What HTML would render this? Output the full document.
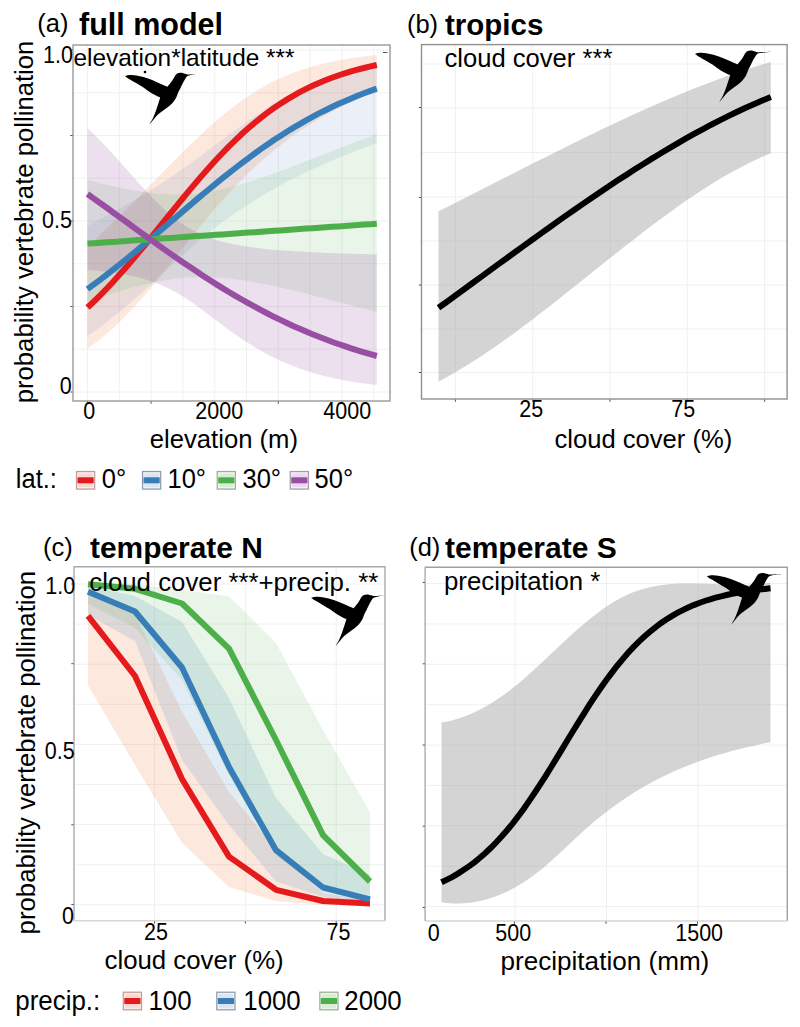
<!DOCTYPE html>
<html><head><meta charset="utf-8">
<style>
html,body{margin:0;padding:0;background:#fff;}
body{width:800px;height:1027px;overflow:hidden;position:relative;}
svg{position:absolute;left:0;top:0;}
text{font-family:"Liberation Sans",sans-serif;fill:#000;}
.b{font-weight:bold;}
</style></head><body>
<svg width="800" height="1027" viewBox="0 0 800 1027">
<rect x="0" y="0" width="800" height="1027" fill="#fff"/>
<!-- grids -->
<g stroke="#f0f0f0" stroke-width="1"><line x1="87.5" y1="45.0" x2="87.5" y2="401.0"/><line x1="119.3" y1="45.0" x2="119.3" y2="401.0"/><line x1="151.1" y1="45.0" x2="151.1" y2="401.0"/><line x1="182.9" y1="45.0" x2="182.9" y2="401.0"/><line x1="214.7" y1="45.0" x2="214.7" y2="401.0"/><line x1="246.5" y1="45.0" x2="246.5" y2="401.0"/><line x1="278.3" y1="45.0" x2="278.3" y2="401.0"/><line x1="310.1" y1="45.0" x2="310.1" y2="401.0"/><line x1="341.9" y1="45.0" x2="341.9" y2="401.0"/><line x1="373.7" y1="45.0" x2="373.7" y2="401.0"/><line x1="73.0" y1="392.0" x2="390.0" y2="392.0"/><line x1="73.0" y1="349.2" x2="390.0" y2="349.2"/><line x1="73.0" y1="306.5" x2="390.0" y2="306.5"/><line x1="73.0" y1="263.8" x2="390.0" y2="263.8"/><line x1="73.0" y1="221.0" x2="390.0" y2="221.0"/><line x1="73.0" y1="178.2" x2="390.0" y2="178.2"/><line x1="73.0" y1="135.5" x2="390.0" y2="135.5"/><line x1="73.0" y1="92.8" x2="390.0" y2="92.8"/><line x1="73.0" y1="50.0" x2="390.0" y2="50.0"/><line x1="455.4" y1="45.0" x2="455.4" y2="399.0"/><line x1="532.7" y1="45.0" x2="532.7" y2="399.0"/><line x1="610.0" y1="45.0" x2="610.0" y2="399.0"/><line x1="687.3" y1="45.0" x2="687.3" y2="399.0"/><line x1="764.6" y1="45.0" x2="764.6" y2="399.0"/><line x1="421.5" y1="64.0" x2="787.3" y2="64.0"/><line x1="421.5" y1="108.0" x2="787.3" y2="108.0"/><line x1="421.5" y1="152.5" x2="787.3" y2="152.5"/><line x1="421.5" y1="197.0" x2="787.3" y2="197.0"/><line x1="421.5" y1="241.0" x2="787.3" y2="241.0"/><line x1="421.5" y1="285.0" x2="787.3" y2="285.0"/><line x1="421.5" y1="329.0" x2="787.3" y2="329.0"/><line x1="421.5" y1="372.6" x2="787.3" y2="372.6"/><line x1="154.5" y1="566.7" x2="154.5" y2="920.8"/><line x1="245.4" y1="566.7" x2="245.4" y2="920.8"/><line x1="336.2" y1="566.7" x2="336.2" y2="920.8"/><line x1="74.0" y1="584.0" x2="385.0" y2="584.0"/><line x1="74.0" y1="624.1" x2="385.0" y2="624.1"/><line x1="74.0" y1="664.2" x2="385.0" y2="664.2"/><line x1="74.0" y1="704.3" x2="385.0" y2="704.3"/><line x1="74.0" y1="744.4" x2="385.0" y2="744.4"/><line x1="74.0" y1="784.5" x2="385.0" y2="784.5"/><line x1="74.0" y1="824.6" x2="385.0" y2="824.6"/><line x1="74.0" y1="864.7" x2="385.0" y2="864.7"/><line x1="74.0" y1="904.8" x2="385.0" y2="904.8"/><line x1="514.9" y1="567.2" x2="514.9" y2="921.0"/><line x1="606.5" y1="567.2" x2="606.5" y2="921.0"/><line x1="698.0" y1="567.2" x2="698.0" y2="921.0"/><line x1="425.5" y1="583.5" x2="787.5" y2="583.5"/><line x1="425.5" y1="623.9" x2="787.5" y2="623.9"/><line x1="425.5" y1="664.3" x2="787.5" y2="664.3"/><line x1="425.5" y1="704.7" x2="787.5" y2="704.7"/><line x1="425.5" y1="745.1" x2="787.5" y2="745.1"/><line x1="425.5" y1="785.5" x2="787.5" y2="785.5"/><line x1="425.5" y1="825.8" x2="787.5" y2="825.8"/><line x1="425.5" y1="866.2" x2="787.5" y2="866.2"/><line x1="425.5" y1="906.6" x2="787.5" y2="906.6"/></g>
<!-- Panel A -->
<path d="M87.5,246.6 L93.9,240.7 L100.4,234.6 L106.8,228.5 L113.2,222.3 L119.6,216.0 L126.1,209.6 L132.5,203.2 L138.9,196.7 L145.4,190.1 L151.8,183.6 L158.2,177.0 L164.6,170.4 L171.1,163.9 L177.5,157.4 L183.9,151.0 L190.4,144.7 L196.8,138.5 L203.2,132.5 L209.6,126.6 L216.1,120.9 L222.5,115.5 L228.9,110.3 L235.4,105.3 L241.8,100.6 L248.2,96.2 L254.7,92.0 L261.1,88.2 L267.5,84.6 L273.9,81.3 L280.4,78.2 L286.8,75.4 L293.2,72.8 L299.7,70.5 L306.1,68.4 L312.5,66.4 L318.9,64.7 L325.4,63.1 L331.8,61.7 L338.2,60.4 L344.7,59.3 L351.1,58.3 L357.5,57.3 L363.9,56.5 L370.4,55.8 L376.8,55.1 L376.8,91.7 L370.4,94.1 L363.9,96.7 L357.5,99.4 L351.1,102.3 L344.7,105.3 L338.2,108.4 L331.8,111.8 L325.4,115.3 L318.9,118.9 L312.5,122.8 L306.1,126.9 L299.7,131.1 L293.2,135.6 L286.8,140.3 L280.4,145.2 L273.9,150.3 L267.5,155.7 L261.1,161.3 L254.7,167.2 L248.2,173.3 L241.8,179.7 L235.4,186.3 L228.9,193.2 L222.5,200.3 L216.1,207.6 L209.6,215.1 L203.2,222.8 L196.8,230.7 L190.4,238.7 L183.9,246.8 L177.5,254.9 L171.1,263.0 L164.6,271.0 L158.2,279.0 L151.8,286.8 L145.4,294.4 L138.9,301.7 L132.5,308.8 L126.1,315.5 L119.6,321.9 L113.2,328.0 L106.8,333.7 L100.4,339.0 L93.9,344.0 L87.5,348.6 Z" fill="rgba(240,90,20,0.14)"/>
<path d="M87.5,225.9 L93.9,222.6 L100.4,219.2 L106.8,215.8 L113.2,212.3 L119.6,208.7 L126.1,205.1 L132.5,201.3 L138.9,197.5 L145.4,193.6 L151.8,189.6 L158.2,185.4 L164.6,181.2 L171.1,176.9 L177.5,172.5 L183.9,168.0 L190.4,163.4 L196.8,158.7 L203.2,153.9 L209.6,149.1 L216.1,144.3 L222.5,139.5 L228.9,134.8 L235.4,130.0 L241.8,125.4 L248.2,120.8 L254.7,116.4 L261.1,112.1 L267.5,107.9 L273.9,104.0 L280.4,100.2 L286.8,96.5 L293.2,93.1 L299.7,89.9 L306.1,86.8 L312.5,83.9 L318.9,81.3 L325.4,78.8 L331.8,76.4 L338.2,74.3 L344.7,72.2 L351.1,70.4 L357.5,68.7 L363.9,67.1 L370.4,65.6 L376.8,64.2 L376.8,143.0 L370.4,145.4 L363.9,147.8 L357.5,150.3 L351.1,152.8 L344.7,155.4 L338.2,158.0 L331.8,160.7 L325.4,163.5 L318.9,166.4 L312.5,169.3 L306.1,172.3 L299.7,175.4 L293.2,178.6 L286.8,181.9 L280.4,185.3 L273.9,188.8 L267.5,192.5 L261.1,196.3 L254.7,200.2 L248.2,204.2 L241.8,208.5 L235.4,212.8 L228.9,217.4 L222.5,222.1 L216.1,227.0 L209.6,232.1 L203.2,237.4 L196.8,242.8 L190.4,248.4 L183.9,254.1 L177.5,259.9 L171.1,265.8 L164.6,271.7 L158.2,277.7 L151.8,283.6 L145.4,289.5 L138.9,295.3 L132.5,301.0 L126.1,306.5 L119.6,311.9 L113.2,317.1 L106.8,322.1 L100.4,326.9 L93.9,331.5 L87.5,335.9 Z" fill="rgba(70,110,190,0.11)"/>
<path d="M87.5,179.9 L93.9,181.6 L100.4,183.3 L106.8,184.9 L113.2,186.3 L119.6,187.8 L126.1,189.1 L132.5,190.3 L138.9,191.3 L145.4,192.3 L151.8,193.1 L158.2,193.7 L164.6,194.1 L171.1,194.4 L177.5,194.4 L183.9,194.3 L190.4,193.9 L196.8,193.4 L203.2,192.6 L209.6,191.6 L216.1,190.5 L222.5,189.1 L228.9,187.6 L235.4,185.9 L241.8,184.1 L248.2,182.2 L254.7,180.1 L261.1,178.0 L267.5,175.8 L273.9,173.5 L280.4,171.1 L286.8,168.7 L293.2,166.3 L299.7,163.8 L306.1,161.3 L312.5,158.8 L318.9,156.3 L325.4,153.8 L331.8,151.3 L338.2,148.8 L344.7,146.3 L351.1,143.8 L357.5,141.3 L363.9,138.9 L370.4,136.5 L376.8,134.1 L376.8,311.9 L370.4,310.2 L363.9,308.6 L357.5,306.9 L351.1,305.2 L344.7,303.6 L338.2,301.9 L331.8,300.2 L325.4,298.5 L318.9,296.9 L312.5,295.3 L306.1,293.6 L299.7,292.1 L293.2,290.5 L286.8,289.0 L280.4,287.5 L273.9,286.1 L267.5,284.7 L261.1,283.4 L254.7,282.2 L248.2,281.1 L241.8,280.1 L235.4,279.2 L228.9,278.4 L222.5,277.8 L216.1,277.4 L209.6,277.1 L203.2,277.0 L196.8,277.1 L190.4,277.4 L183.9,277.8 L177.5,278.5 L171.1,279.3 L164.6,280.3 L158.2,281.5 L151.8,282.9 L145.4,284.3 L138.9,285.9 L132.5,287.6 L126.1,289.4 L119.6,291.3 L113.2,293.2 L106.8,295.2 L100.4,297.3 L93.9,299.4 L87.5,301.5 Z" fill="rgba(77,175,74,0.13)"/>
<path d="M87.5,127.9 L93.9,134.2 L100.4,140.7 L106.8,147.5 L113.2,154.4 L119.6,161.6 L126.1,168.8 L132.5,176.0 L138.9,183.2 L145.4,190.2 L151.8,197.0 L158.2,203.5 L164.6,209.7 L171.1,215.3 L177.5,220.4 L183.9,224.9 L190.4,228.9 L196.8,232.3 L203.2,235.3 L209.6,237.8 L216.1,239.9 L222.5,241.8 L228.9,243.3 L235.4,244.7 L241.8,245.8 L248.2,246.8 L254.7,247.7 L261.1,248.5 L267.5,249.2 L273.9,249.8 L280.4,250.3 L286.8,250.8 L293.2,251.2 L299.7,251.6 L306.1,252.0 L312.5,252.3 L318.9,252.6 L325.4,252.9 L331.8,253.1 L338.2,253.4 L344.7,253.6 L351.1,253.8 L357.5,254.0 L363.9,254.1 L370.4,254.3 L376.8,254.4 L376.8,385.1 L370.4,384.3 L363.9,383.5 L357.5,382.6 L351.1,381.5 L344.7,380.4 L338.2,379.1 L331.8,377.7 L325.4,376.2 L318.9,374.5 L312.5,372.7 L306.1,370.7 L299.7,368.5 L293.2,366.1 L286.8,363.5 L280.4,360.7 L273.9,357.6 L267.5,354.4 L261.1,350.8 L254.7,347.1 L248.2,343.1 L241.8,338.9 L235.4,334.5 L228.9,329.9 L222.5,325.1 L216.1,320.3 L209.6,315.4 L203.2,310.6 L196.8,305.9 L190.4,301.3 L183.9,297.1 L177.5,293.2 L171.1,289.7 L164.6,286.5 L158.2,283.8 L151.8,281.4 L145.4,279.4 L138.9,277.6 L132.5,276.1 L126.1,274.7 L119.6,273.6 L113.2,272.6 L106.8,271.7 L100.4,270.9 L93.9,270.3 L87.5,269.7 Z" fill="rgba(152,78,163,0.18)"/>

<path d="M87.5,307.5 L93.9,301.5 L100.4,295.1 L106.8,288.5 L113.2,281.7 L119.6,274.6 L126.1,267.3 L132.5,259.9 L138.9,252.2 L145.4,244.5 L151.8,236.6 L158.2,228.7 L164.6,220.7 L171.1,212.7 L177.5,204.8 L183.9,197.0 L190.4,189.2 L196.8,181.6 L203.2,174.1 L209.6,166.9 L216.1,159.8 L222.5,153.0 L228.9,146.4 L235.4,140.1 L241.8,134.0 L248.2,128.3 L254.7,122.8 L261.1,117.6 L267.5,112.7 L273.9,108.0 L280.4,103.7 L286.8,99.6 L293.2,95.8 L299.7,92.2 L306.1,88.9 L312.5,85.8 L318.9,82.9 L325.4,80.2 L331.8,77.8 L338.2,75.5 L344.7,73.4 L351.1,71.4 L357.5,69.6 L363.9,68.0 L370.4,66.4 L376.8,65.0" fill="none" stroke="#e41a1c" stroke-width="6"/>
<path d="M87.5,289.1 L93.9,284.4 L100.4,279.6 L106.8,274.7 L113.2,269.6 L119.6,264.5 L126.1,259.3 L132.5,254.0 L138.9,248.7 L145.4,243.3 L151.8,237.9 L158.2,232.4 L164.6,226.9 L171.1,221.4 L177.5,215.9 L183.9,210.4 L190.4,204.9 L196.8,199.4 L203.2,194.0 L209.6,188.7 L216.1,183.4 L222.5,178.2 L228.9,173.1 L235.4,168.0 L241.8,163.1 L248.2,158.3 L254.7,153.5 L261.1,148.9 L267.5,144.5 L273.9,140.1 L280.4,135.9 L286.8,131.8 L293.2,127.9 L299.7,124.1 L306.1,120.4 L312.5,116.8 L318.9,113.4 L325.4,110.2 L331.8,107.0 L338.2,104.0 L344.7,101.2 L351.1,98.4 L357.5,95.8 L363.9,93.3 L370.4,90.9 L376.8,88.7" fill="none" stroke="#377eb8" stroke-width="6"/>
<path d="M87.5,243.6 L93.9,243.2 L100.4,242.7 L106.8,242.3 L113.2,241.9 L119.6,241.4 L126.1,241.0 L132.5,240.5 L138.9,240.1 L145.4,239.7 L151.8,239.2 L158.2,238.8 L164.6,238.3 L171.1,237.9 L177.5,237.5 L183.9,237.0 L190.4,236.6 L196.8,236.1 L203.2,235.7 L209.6,235.3 L216.1,234.8 L222.5,234.4 L228.9,233.9 L235.4,233.5 L241.8,233.1 L248.2,232.6 L254.7,232.2 L261.1,231.7 L267.5,231.3 L273.9,230.8 L280.4,230.4 L286.8,230.0 L293.2,229.5 L299.7,229.1 L306.1,228.6 L312.5,228.2 L318.9,227.7 L325.4,227.3 L331.8,226.8 L338.2,226.4 L344.7,226.0 L351.1,225.5 L357.5,225.1 L363.9,224.6 L370.4,224.2 L376.8,223.7" fill="none" stroke="#4daf4a" stroke-width="6"/>
<path d="M87.5,194.0 L93.9,198.6 L100.4,203.2 L106.8,207.8 L113.2,212.5 L119.6,217.2 L126.1,221.8 L132.5,226.5 L138.9,231.2 L145.4,235.8 L151.8,240.4 L158.2,245.0 L164.6,249.6 L171.1,254.1 L177.5,258.6 L183.9,263.0 L190.4,267.3 L196.8,271.6 L203.2,275.9 L209.6,280.0 L216.1,284.1 L222.5,288.1 L228.9,292.0 L235.4,295.8 L241.8,299.5 L248.2,303.2 L254.7,306.7 L261.1,310.2 L267.5,313.5 L273.9,316.8 L280.4,319.9 L286.8,323.0 L293.2,326.0 L299.7,328.8 L306.1,331.6 L312.5,334.3 L318.9,336.8 L325.4,339.3 L331.8,341.7 L338.2,344.0 L344.7,346.2 L351.1,348.3 L357.5,350.4 L363.9,352.3 L370.4,354.2 L376.8,356.0" fill="none" stroke="#984ea3" stroke-width="6"/>

<!-- Panel B -->
<path d="M438.5,211.2 L447.0,206.9 L455.5,202.7 L464.1,198.4 L472.6,194.1 L481.1,189.8 L489.6,185.5 L498.1,181.1 L506.7,176.8 L515.2,172.5 L523.7,168.1 L532.2,163.8 L540.7,159.5 L549.3,155.2 L557.8,151.0 L566.3,146.7 L574.8,142.5 L583.3,138.3 L591.9,134.2 L600.4,130.0 L608.9,126.0 L617.4,122.0 L626.0,118.0 L634.5,114.1 L643.0,110.2 L651.5,106.4 L660.0,102.7 L668.6,99.0 L677.1,95.4 L685.6,91.9 L694.1,88.5 L702.6,85.2 L711.2,81.9 L719.7,78.7 L728.2,75.7 L736.7,72.7 L745.2,69.9 L753.8,67.1 L762.3,64.5 L770.8,61.9 L770.8,153.2 L762.3,156.8 L753.8,160.7 L745.2,164.9 L736.7,169.4 L728.2,174.1 L719.7,179.1 L711.2,184.3 L702.6,189.7 L694.1,195.3 L685.6,201.1 L677.1,207.1 L668.6,213.2 L660.0,219.4 L651.5,225.8 L643.0,232.3 L634.5,238.9 L626.0,245.5 L617.4,252.2 L608.9,259.0 L600.4,265.8 L591.9,272.6 L583.3,279.5 L574.8,286.3 L566.3,293.1 L557.8,299.8 L549.3,306.5 L540.7,313.1 L532.2,319.7 L523.7,326.1 L515.2,332.4 L506.7,338.6 L498.1,344.7 L489.6,350.6 L481.1,356.3 L472.6,361.8 L464.1,367.1 L455.5,372.2 L447.0,377.1 L438.5,381.7 Z" fill="rgba(150,150,150,0.41)"/>
<path d="M438.5,307.8 L447.0,301.7 L455.5,295.5 L464.1,289.3 L472.6,283.0 L481.1,276.8 L489.6,270.6 L498.1,264.4 L506.7,258.2 L515.2,252.0 L523.7,245.8 L532.2,239.7 L540.7,233.6 L549.3,227.5 L557.8,221.4 L566.3,215.4 L574.8,209.5 L583.3,203.6 L591.9,197.7 L600.4,192.0 L608.9,186.3 L617.4,180.6 L626.0,175.1 L634.5,169.6 L643.0,164.2 L651.5,158.9 L660.0,153.7 L668.6,148.6 L677.1,143.6 L685.6,138.7 L694.1,133.9 L702.6,129.3 L711.2,124.7 L719.7,120.4 L728.2,116.1 L736.7,112.0 L745.2,108.0 L753.8,104.2 L762.3,100.5 L770.8,97.0" fill="none" stroke="#000" stroke-width="6"/>

<!-- Panel C -->
<path d="M88.0,595.0 L135.0,614.0 L182.0,712.0 L229.0,792.0 L276.0,849.5 L323.0,893.0 L370.0,901.0 L370.0,905.5 L323.0,905.0 L276.0,901.0 L229.0,887.0 L182.0,843.0 L135.0,765.0 L88.0,685.5 Z" fill="rgba(240,90,20,0.14)"/>
<path d="M88.0,586.0 L135.0,596.0 L182.0,622.0 L229.0,698.0 L276.0,798.0 L323.0,854.0 L370.0,875.0 L370.0,903.0 L323.0,897.0 L276.0,881.5 L229.0,825.0 L182.0,760.0 L135.0,641.0 L88.0,615.0 Z" fill="rgba(55,126,184,0.15)"/>
<path d="M88.0,583.0 L135.0,584.0 L182.0,590.0 L229.0,596.2 L276.0,643.0 L323.0,730.0 L370.0,812.6 L370.0,900.0 L323.0,890.0 L276.0,856.0 L229.0,775.0 L182.0,680.0 L135.0,628.0 L88.0,604.0 Z" fill="rgba(77,175,74,0.13)"/>

<path d="M88.0,615.8 L135.0,676.0 L182.0,779.0 L229.0,856.6 L276.0,889.8 L323.0,901.0 L370.0,903.4" fill="none" stroke="#e41a1c" stroke-width="6" stroke-linejoin="round"/>
<path d="M88.0,591.8 L135.0,611.5 L182.0,667.5 L229.0,767.0 L276.0,850.2 L323.0,887.5 L370.0,899.3" fill="none" stroke="#377eb8" stroke-width="6" stroke-linejoin="round"/>
<path d="M88.0,584.2 L135.0,588.8 L182.0,603.5 L229.0,648.7 L276.0,740.0 L323.0,835.2 L370.0,881.5" fill="none" stroke="#4daf4a" stroke-width="6" stroke-linejoin="round"/>

<!-- Panel D -->
<path d="M441.5,722.5 L447.1,721.5 L452.7,720.2 L458.2,718.6 L463.8,716.7 L469.4,714.5 L475.0,712.1 L480.5,709.3 L486.1,706.2 L491.7,702.9 L497.3,699.3 L502.8,695.5 L508.4,691.4 L514.0,687.0 L519.6,682.4 L525.1,677.7 L530.7,672.7 L536.3,667.6 L541.9,662.4 L547.4,657.2 L553.0,651.9 L558.6,646.7 L564.2,641.5 L569.8,636.3 L575.3,631.3 L580.9,626.4 L586.5,621.7 L592.1,617.2 L597.6,612.9 L603.2,608.8 L608.8,605.0 L614.4,601.5 L619.9,598.4 L625.5,595.6 L631.1,593.1 L636.7,591.0 L642.2,589.2 L647.8,587.7 L653.4,586.4 L659.0,585.5 L664.6,584.7 L670.1,584.1 L675.7,583.7 L681.3,583.5 L686.9,583.4 L692.4,583.4 L698.0,583.5 L703.6,583.7 L709.2,583.9 L714.7,584.1 L720.3,584.4 L725.9,584.6 L731.5,584.7 L737.0,584.8 L742.6,584.9 L748.2,584.7 L753.8,584.5 L759.3,584.1 L764.9,583.5 L770.5,582.8 L770.5,742.2 L764.9,743.3 L759.3,744.5 L753.8,745.7 L748.2,746.9 L742.6,748.3 L737.0,749.7 L731.5,751.1 L725.9,752.7 L720.3,754.3 L714.7,756.0 L709.2,757.8 L703.6,759.7 L698.0,761.7 L692.4,763.7 L686.9,765.9 L681.3,768.2 L675.7,770.6 L670.1,773.2 L664.6,775.8 L659.0,778.6 L653.4,781.5 L647.8,784.6 L642.2,787.8 L636.7,791.1 L631.1,794.6 L625.5,798.2 L619.9,802.0 L614.4,806.0 L608.8,810.1 L603.2,814.4 L597.6,818.8 L592.1,823.5 L586.5,828.3 L580.9,833.3 L575.3,838.5 L569.8,843.7 L564.2,849.0 L558.6,854.2 L553.0,859.3 L547.4,864.2 L541.9,868.9 L536.3,873.3 L530.7,877.5 L525.1,881.3 L519.6,884.8 L514.0,888.0 L508.4,890.9 L502.8,893.5 L497.3,895.8 L491.7,897.8 L486.1,899.5 L480.5,900.9 L475.0,902.0 L469.4,902.8 L463.8,903.3 L458.2,903.5 L452.7,903.4 L447.1,903.0 L441.5,902.3 Z" fill="rgba(150,150,150,0.41)"/>
<path d="M441.5,882.3 L447.0,879.6 L452.5,876.8 L457.9,873.6 L463.4,870.1 L468.9,866.4 L474.4,862.3 L479.9,857.8 L485.4,853.0 L490.9,847.8 L496.3,842.3 L501.8,836.3 L507.3,830.0 L512.8,823.3 L518.3,816.2 L523.8,808.7 L529.2,800.9 L534.7,792.8 L540.2,784.4 L545.7,775.8 L551.2,767.0 L556.6,758.1 L562.1,749.1 L567.6,740.0 L573.1,731.0 L578.6,722.1 L584.1,713.3 L589.5,704.7 L595.0,696.4 L600.5,688.3 L606.0,680.5 L611.5,673.1 L617.0,666.0 L622.5,659.4 L627.9,653.0 L633.4,647.1 L638.9,641.6 L644.4,636.5 L649.9,631.7 L655.4,627.3 L660.8,623.2 L666.3,619.5 L671.8,616.1 L677.3,612.9 L682.8,610.1 L688.2,607.5 L693.7,605.1 L699.2,603.0 L704.7,601.0 L710.2,599.3 L715.7,597.7 L721.1,596.3 L726.6,595.0 L732.1,593.8 L737.6,592.7 L743.1,591.8 L748.6,591.0 L754.0,590.2 L759.5,589.5 L765.0,588.9 L770.5,588.3" fill="none" stroke="#000" stroke-width="6"/>

<!-- borders -->
<g fill="none" stroke-width="1.4">
<rect x="73" y="45" width="317" height="356" stroke="#999"/>
<rect x="421.5" y="44.6" width="365.6" height="354.4" stroke="#909090"/>
<path d="M74,920.8 V566.7 H385 V920.8" stroke="#aaa"/>
<path d="M74,920.8 H385" stroke="#d6d6d6"/>
<path d="M425.3,921 V567.2 H787.3 V921" stroke="#a0a0a0"/>
<path d="M425.3,567.2 V921" stroke="#bcbcbc"/>
<path d="M425.3,921 H787.3" stroke="#d6d6d6"/>
</g>
<!-- ticks -->
<g stroke="#555" stroke-width="1"><line x1="70.3" y1="392.0" x2="72.6" y2="392.0"/><line x1="70.3" y1="306.5" x2="72.6" y2="306.5"/><line x1="70.3" y1="221.0" x2="72.6" y2="221.0"/><line x1="70.3" y1="135.5" x2="72.6" y2="135.5"/><line x1="70.3" y1="50.0" x2="72.6" y2="50.0"/><line x1="87.5" y1="401.5" x2="87.5" y2="403.8"/><line x1="151.1" y1="401.5" x2="151.1" y2="403.8"/><line x1="214.7" y1="401.5" x2="214.7" y2="403.8"/><line x1="278.3" y1="401.5" x2="278.3" y2="403.8"/><line x1="341.9" y1="401.5" x2="341.9" y2="403.8"/><line x1="418.8" y1="107.5" x2="421.1" y2="107.5"/><line x1="418.8" y1="197.5" x2="421.1" y2="197.5"/><line x1="418.8" y1="285.0" x2="421.1" y2="285.0"/><line x1="418.8" y1="372.5" x2="421.1" y2="372.5"/><line x1="455.4" y1="399.5" x2="455.4" y2="401.8"/><line x1="532.7" y1="399.5" x2="532.7" y2="401.8"/><line x1="610.0" y1="399.5" x2="610.0" y2="401.8"/><line x1="687.3" y1="399.5" x2="687.3" y2="401.8"/><line x1="764.6" y1="399.5" x2="764.6" y2="401.8"/><line x1="71.3" y1="584.0" x2="73.6" y2="584.0"/><line x1="71.3" y1="663.7" x2="73.6" y2="663.7"/><line x1="71.3" y1="743.5" x2="73.6" y2="743.5"/><line x1="71.3" y1="824.8" x2="73.6" y2="824.8"/><line x1="71.3" y1="904.5" x2="73.6" y2="904.5"/><line x1="154.5" y1="921.3" x2="154.5" y2="923.6"/><line x1="245.4" y1="921.3" x2="245.4" y2="923.6"/><line x1="336.2" y1="921.3" x2="336.2" y2="923.6"/><line x1="422.6" y1="582.5" x2="424.9" y2="582.5"/><line x1="422.6" y1="663.8" x2="424.9" y2="663.8"/><line x1="422.6" y1="745.0" x2="424.9" y2="745.0"/><line x1="422.6" y1="826.2" x2="424.9" y2="826.2"/><line x1="422.6" y1="907.5" x2="424.9" y2="907.5"/><line x1="514.5" y1="921.5" x2="514.5" y2="923.8"/><line x1="606.0" y1="921.5" x2="606.0" y2="923.8"/><line x1="697.5" y1="921.5" x2="697.5" y2="923.8"/></g><line x1="383" y1="52.5" x2="387.5" y2="52.5" stroke="#555" stroke-width="1"/>
<!-- birds -->
<path transform="translate(125.00,73.90)" d="M0,2.4C0.73,2.20 2.11,1.23 4.40,1.20C6.69,1.17 10.63,1.62 13.75,2.20C16.87,2.78 19.98,3.65 23.10,4.70C26.23,5.75 29.27,7.15 32.50,8.50C35.73,9.85 40.83,12.08 42.50,12.80C43.30,11.77 45.92,8.60 47.30,6.60C48.68,4.60 49.52,2.08 50.80,0.80C52.08,-0.48 53.47,-0.93 55.00,-1.10C56.53,-1.27 58.58,-0.48 60.00,-0.20C61.42,0.08 61.78,0.55 63.50,0.60C65.22,0.65 69.17,0.18 70.30,0.10C69.42,0.32 66.42,0.95 65.00,1.40C63.58,1.85 62.80,1.87 61.80,2.80C60.80,3.73 60.05,5.13 59.00,7.00C57.95,8.87 56.50,12.00 55.50,14.00C54.50,16.00 53.75,17.33 53.00,19.00C52.25,20.67 51.92,22.33 51.00,24.00C50.08,25.67 48.83,27.50 47.50,29.00C46.17,30.50 44.67,31.67 43.00,33.00C41.33,34.33 39.17,35.75 37.50,37.00C35.83,38.25 34.42,39.17 33.00,40.50C31.58,41.83 30.47,43.28 29.00,45.00C27.53,46.72 25.00,49.83 24.20,50.80C24.83,49.67 26.87,46.38 28.00,44.00C29.13,41.62 30.08,39.00 31.00,36.50C31.92,34.00 32.80,31.15 33.50,29.00C34.20,26.85 34.92,24.50 35.20,23.60C34.33,23.20 31.70,22.08 30.00,21.20C28.30,20.32 26.75,19.45 25.00,18.30C23.25,17.15 21.90,15.87 19.50,14.30C17.10,12.73 13.18,10.43 10.60,8.90C8.02,7.37 5.77,6.18 4.00,5.10C2.23,4.02 0.67,2.85 0.00,2.40Z" fill="#000"/><path transform="translate(695.00,51.60)" d="M0,2.4C0.73,2.20 2.11,1.23 4.40,1.20C6.69,1.17 10.63,1.62 13.75,2.20C16.87,2.78 19.98,3.65 23.10,4.70C26.23,5.75 29.27,7.15 32.50,8.50C35.73,9.85 40.83,12.08 42.50,12.80C43.30,11.77 45.92,8.60 47.30,6.60C48.68,4.60 49.52,2.08 50.80,0.80C52.08,-0.48 53.47,-0.93 55.00,-1.10C56.53,-1.27 58.58,-0.48 60.00,-0.20C61.42,0.08 60.80,0.55 63.50,0.60C66.20,0.65 74.08,0.18 76.20,0.10C74.33,0.32 67.40,0.95 65.00,1.40C62.60,1.85 62.80,1.87 61.80,2.80C60.80,3.73 60.05,5.13 59.00,7.00C57.95,8.87 56.50,12.00 55.50,14.00C54.50,16.00 53.75,17.33 53.00,19.00C52.25,20.67 51.92,22.33 51.00,24.00C50.08,25.67 48.83,27.50 47.50,29.00C46.17,30.50 44.67,31.67 43.00,33.00C41.33,34.33 39.17,35.75 37.50,37.00C35.83,38.25 34.42,39.17 33.00,40.50C31.58,41.83 30.47,43.28 29.00,45.00C27.53,46.72 25.00,49.83 24.20,50.80C24.83,49.67 26.87,46.38 28.00,44.00C29.13,41.62 30.08,39.00 31.00,36.50C31.92,34.00 32.80,31.15 33.50,29.00C34.20,26.85 34.92,24.50 35.20,23.60C34.33,23.20 31.70,22.08 30.00,21.20C28.30,20.32 26.75,19.45 25.00,18.30C23.25,17.15 21.90,15.87 19.50,14.30C17.10,12.73 13.18,10.43 10.60,8.90C8.02,7.37 5.77,6.18 4.00,5.10C2.23,4.02 0.67,2.85 0.00,2.40Z" fill="#000"/><path transform="translate(311.25,595.50)" d="M0,2.4C0.73,2.20 2.11,1.23 4.40,1.20C6.69,1.17 10.63,1.62 13.75,2.20C16.87,2.78 19.98,3.65 23.10,4.70C26.23,5.75 29.27,7.15 32.50,8.50C35.73,9.85 40.83,12.08 42.50,12.80C43.30,11.77 45.92,8.60 47.30,6.60C48.68,4.60 49.52,2.08 50.80,0.80C52.08,-0.48 53.47,-0.93 55.00,-1.10C56.53,-1.27 58.58,-0.48 60.00,-0.20C61.42,0.08 61.42,0.55 63.50,0.60C65.58,0.65 71.00,0.18 72.50,0.10C71.25,0.32 66.78,0.95 65.00,1.40C63.22,1.85 62.80,1.87 61.80,2.80C60.80,3.73 60.05,5.13 59.00,7.00C57.95,8.87 56.50,12.00 55.50,14.00C54.50,16.00 53.75,17.33 53.00,19.00C52.25,20.67 51.92,22.33 51.00,24.00C50.08,25.67 48.83,27.50 47.50,29.00C46.17,30.50 44.67,31.67 43.00,33.00C41.33,34.33 39.17,35.75 37.50,37.00C35.83,38.25 34.42,39.17 33.00,40.50C31.58,41.83 30.47,43.28 29.00,45.00C27.53,46.72 25.00,49.83 24.20,50.80C24.83,49.67 26.87,46.38 28.00,44.00C29.13,41.62 30.08,39.00 31.00,36.50C31.92,34.00 32.80,31.15 33.50,29.00C34.20,26.85 34.92,24.50 35.20,23.60C34.33,23.20 31.70,22.08 30.00,21.20C28.30,20.32 26.75,19.45 25.00,18.30C23.25,17.15 21.90,15.87 19.50,14.30C17.10,12.73 13.18,10.43 10.60,8.90C8.02,7.37 5.77,6.18 4.00,5.10C2.23,4.02 0.67,2.85 0.00,2.40Z" fill="#000"/><path transform="translate(706.90,574.00)" d="M0,2.4C0.73,2.20 2.11,1.23 4.40,1.20C6.69,1.17 10.63,1.62 13.75,2.20C16.87,2.78 19.98,3.65 23.10,4.70C26.23,5.75 29.27,7.15 32.50,8.50C35.73,9.85 40.83,12.08 42.50,12.80C43.30,11.77 45.92,8.60 47.30,6.60C48.68,4.60 49.52,2.08 50.80,0.80C52.08,-0.48 53.47,-0.93 55.00,-1.10C56.53,-1.27 58.58,-0.48 60.00,-0.20C61.42,0.08 60.90,0.55 63.50,0.60C66.10,0.65 73.58,0.18 75.60,0.10C73.83,0.32 67.30,0.95 65.00,1.40C62.70,1.85 62.80,1.87 61.80,2.80C60.80,3.73 60.05,5.13 59.00,7.00C57.95,8.87 56.50,12.00 55.50,14.00C54.50,16.00 53.75,17.33 53.00,19.00C52.25,20.67 51.92,22.33 51.00,24.00C50.08,25.67 48.83,27.50 47.50,29.00C46.17,30.50 44.67,31.67 43.00,33.00C41.33,34.33 39.17,35.75 37.50,37.00C35.83,38.25 34.42,39.17 33.00,40.50C31.58,41.83 30.47,43.28 29.00,45.00C27.53,46.72 25.00,49.83 24.20,50.80C24.83,49.67 26.87,46.38 28.00,44.00C29.13,41.62 30.08,39.00 31.00,36.50C31.92,34.00 32.80,31.15 33.50,29.00C34.20,26.85 34.92,24.50 35.20,23.60C34.33,23.20 31.70,22.08 30.00,21.20C28.30,20.32 26.75,19.45 25.00,18.30C23.25,17.15 21.90,15.87 19.50,14.30C17.10,12.73 13.18,10.43 10.60,8.90C8.02,7.37 5.77,6.18 4.00,5.10C2.23,4.02 0.67,2.85 0.00,2.40Z" fill="#000"/><circle cx="145" cy="72" r="1.3" fill="#000"/>
<!-- texts -->
<text transform="translate(37.30,32.40) scale(1,1.040)" font-size="25.50">(a)</text>
<text transform="translate(406.90,33.00) scale(1,1.040)" font-size="25.50">(b)</text>
<text transform="translate(42.90,555.90) scale(1,1.040)" font-size="25.50">(c)</text>
<text transform="translate(409.20,555.90) scale(1,1.040)" font-size="25.50">(d)</text>
<text x="79.00" y="35.00" font-size="30.50" class="b">full model</text>
<text x="445.00" y="34.50" font-size="29.50" class="b">tropics</text>
<text x="90.00" y="558.00" font-size="29.90" class="b">temperate N</text>
<text x="445.00" y="557.50" font-size="30.00" class="b">temperate S</text>
<text x="73.50" y="66.30" font-size="24.40">elevation*latitude ***</text>
<text x="444.50" y="67.00" font-size="25.60">cloud cover ***</text>
<text x="89.30" y="590.50" font-size="25.80">cloud cover ***+precip. **</text>
<text x="444.00" y="590.00" font-size="25.80">precipitation *</text>
<text transform="translate(32.70,403.30) rotate(-90)" font-size="25.70">probability vertebrate pollination</text>
<text transform="translate(34.80,934.40) rotate(-90)" font-size="25.75">probability vertebrate pollination</text>
<text transform="translate(42.98,62.70) scale(1,1.070)" font-size="21.50">1.0</text>
<text transform="translate(42.09,228.30) scale(1,1.070)" font-size="21.50">0.5</text>
<text transform="translate(59.79,393.55) scale(1,1.070)" font-size="21.50">0</text>
<text transform="translate(83.19,419.20) scale(1,1.070)" font-size="21.50">0</text>
<text transform="translate(195.28,419.20) scale(1,1.070)" font-size="21.50">2000</text>
<text transform="translate(323.29,419.20) scale(1,1.070)" font-size="21.50">4000</text>
<text transform="translate(519.28,417.00) scale(1,1.070)" font-size="21.50">25</text>
<text transform="translate(671.28,417.00) scale(1,1.070)" font-size="21.50">75</text>
<text transform="translate(45.28,593.55) scale(1,1.070)" font-size="21.50">1.0</text>
<text transform="translate(44.79,758.80) scale(1,1.070)" font-size="21.50">0.5</text>
<text transform="translate(62.04,924.30) scale(1,1.070)" font-size="21.50">0</text>
<text transform="translate(144.03,940.10) scale(1,1.070)" font-size="21.50">25</text>
<text transform="translate(326.53,940.30) scale(1,1.070)" font-size="21.50">75</text>
<text transform="translate(427.79,940.80) scale(1,1.070)" font-size="21.50">0</text>
<text transform="translate(495.28,940.80) scale(1,1.070)" font-size="21.50">500</text>
<text transform="translate(675.25,940.80) scale(1,1.070)" font-size="21.50">1500</text>
<text x="149.80" y="447.80" font-size="25.65">elevation (m)</text>
<text x="554.50" y="448.00" font-size="25.60">cloud cover (%)</text>
<text x="104.50" y="968.50" font-size="25.80">cloud cover (%)</text>
<text x="500.50" y="969.50" font-size="26.10">precipitation (mm)</text>

<!-- legends -->
<text transform="translate(15.80,488.00) scale(1,1.050)" font-size="25.50">lat.:</text>
<rect x="76.5" y="471.5" width="18.2" height="17.6" fill="#f7d9d3" stroke="#c49a9a" stroke-width="1.2"/><rect x="78.0" y="473.0" width="15.2" height="14.6" fill="none" stroke="rgba(255,255,255,0.6)" stroke-width="1"/><rect x="77.5" y="477.3" width="16.2" height="6" fill="#e41a1c"/><text transform="translate(101.80,488.00) scale(1,1.050)" font-size="25.50">0°</text>
<rect x="142.5" y="471.5" width="18.2" height="17.6" fill="#dbe4f0" stroke="#8c9cb0" stroke-width="1.2"/><rect x="144.0" y="473.0" width="15.2" height="14.6" fill="none" stroke="rgba(255,255,255,0.6)" stroke-width="1"/><rect x="143.5" y="477.3" width="16.2" height="6" fill="#377eb8"/><text transform="translate(167.50,488.00) scale(1,1.050)" font-size="25.50">10°</text>
<rect x="217.2" y="471.5" width="18.2" height="17.6" fill="#dcebd8" stroke="#98b096" stroke-width="1.2"/><rect x="218.7" y="473.0" width="15.2" height="14.6" fill="none" stroke="rgba(255,255,255,0.6)" stroke-width="1"/><rect x="218.2" y="477.3" width="16.2" height="6" fill="#4daf4a"/><text transform="translate(242.50,488.00) scale(1,1.050)" font-size="25.50">30°</text>
<rect x="290.2" y="471.5" width="18.2" height="17.6" fill="#e8d9ec" stroke="#ab98b0" stroke-width="1.2"/><rect x="291.7" y="473.0" width="15.2" height="14.6" fill="none" stroke="rgba(255,255,255,0.6)" stroke-width="1"/><rect x="291.2" y="477.3" width="16.2" height="6" fill="#984ea3"/><text transform="translate(314.60,488.00) scale(1,1.050)" font-size="25.50">50°</text>
<text transform="translate(15.30,1010.20) scale(1,1.050)" font-size="25.90">precip.:</text>
<rect x="123.3" y="992.2" width="18.2" height="17.6" fill="#f7d9d3" stroke="#c49a9a" stroke-width="1.2"/><rect x="124.8" y="993.7" width="15.2" height="14.6" fill="none" stroke="rgba(255,255,255,0.6)" stroke-width="1"/><rect x="124.3" y="998.0" width="16.2" height="6" fill="#e41a1c"/><text transform="translate(148.50,1010.20) scale(1,1.050)" font-size="25.80">100</text>
<rect x="216.8" y="992.2" width="18.2" height="17.6" fill="#dbe4f0" stroke="#8c9cb0" stroke-width="1.2"/><rect x="218.3" y="993.7" width="15.2" height="14.6" fill="none" stroke="rgba(255,255,255,0.6)" stroke-width="1"/><rect x="217.8" y="998.0" width="16.2" height="6" fill="#377eb8"/><text transform="translate(243.30,1010.20) scale(1,1.050)" font-size="25.80">1000</text>
<rect x="319.8" y="992.2" width="18.2" height="17.6" fill="#dcebd8" stroke="#98b096" stroke-width="1.2"/><rect x="321.3" y="993.7" width="15.2" height="14.6" fill="none" stroke="rgba(255,255,255,0.6)" stroke-width="1"/><rect x="320.8" y="998.0" width="16.2" height="6" fill="#4daf4a"/><text transform="translate(344.30,1010.20) scale(1,1.050)" font-size="25.80">2000</text>

</svg>
</body></html>
